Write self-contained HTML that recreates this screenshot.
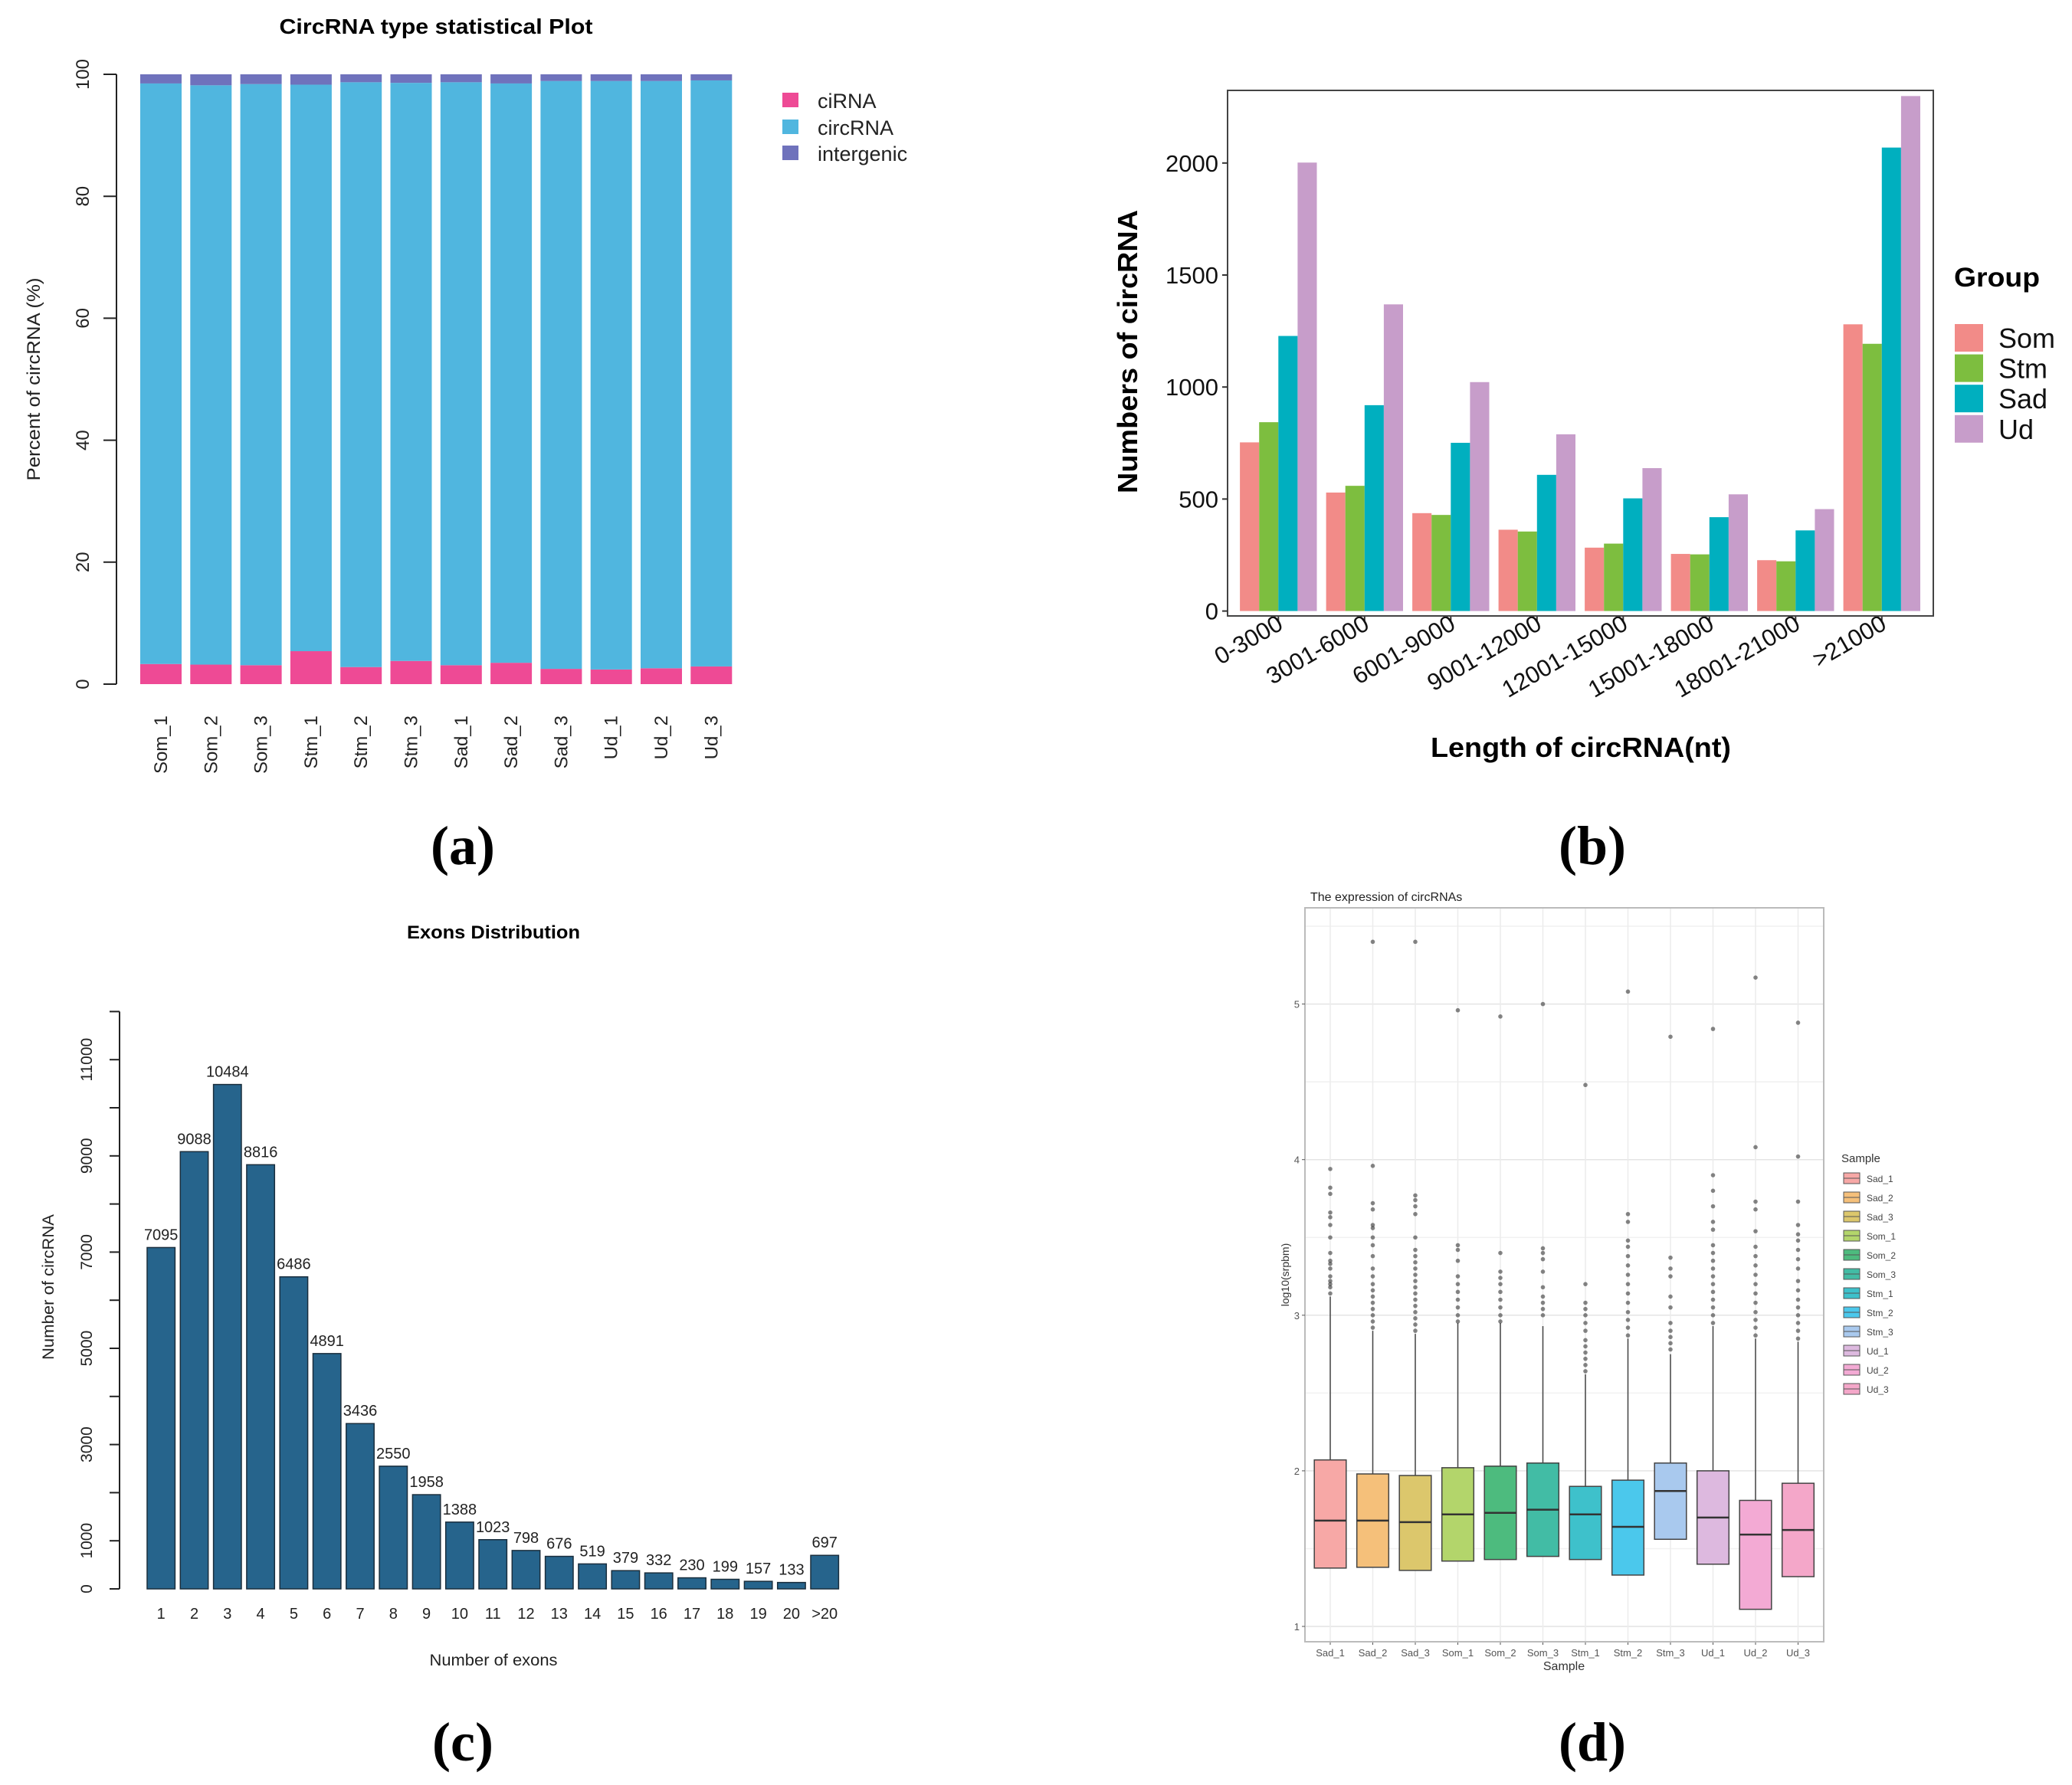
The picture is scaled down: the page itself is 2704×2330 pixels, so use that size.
<!DOCTYPE html>
<html><head><meta charset="utf-8">
<style>
html,body{margin:0;padding:0;background:#fff;}
svg{display:block;font-family:"Liberation Sans",sans-serif;}
.lbl{font-family:"Liberation Serif",serif;font-weight:bold;}
</style></head>
<body>
<svg id="fig" width="2704" height="2330" viewBox="0 0 2704 2330" xmlns="http://www.w3.org/2000/svg">
<g id="pa"></g>
<g id="pb"></g>
<g id="pc"></g>
<g id="pd"></g>
<text class="lbl" x="604" y="1128" font-size="72" text-anchor="middle">(a)</text>
<text class="lbl" x="2078" y="1128" font-size="72" text-anchor="middle">(b)</text>
<text class="lbl" x="604" y="2298" font-size="72" text-anchor="middle">(c)</text>
<text class="lbl" x="2078" y="2298" font-size="72" text-anchor="middle">(d)</text>
</svg>
<script>
// ---------- Panel A data ----------
const aSamples = ["Som_1","Som_2","Som_3","Stm_1","Stm_2","Stm_3","Sad_1","Sad_2","Sad_3","Ud_1","Ud_2","Ud_3"];
const aCiRNA = [3.3,3.2,3.1,5.4,2.8,3.8,3.1,3.5,2.5,2.4,2.6,2.9];
const aIntergenic = [1.5,1.8,1.6,1.7,1.3,1.4,1.3,1.5,1.1,1.1,1.1,1.0];
const aTicks = [0,20,40,60,80,100];
// ---------- Panel B data ----------
const bCats = ["0-3000","3001-6000","6001-9000","9001-12000","12001-15000","15001-18000","18001-21000",">21000"];
const bGroups = ["Som","Stm","Sad","Ud"];
const bSom = [753,529,437,363,283,255,227,1280];
const bStm = [843,559,429,355,301,253,222,1193];
const bSad = [1228,919,751,608,503,419,360,2069];
const bUd = [2002,1369,1022,789,638,521,455,2299];
const bTicks = [0,500,1000,1500,2000];
// ---------- Panel C data ----------
const cCats = ["1","2","3","4","5","6","7","8","9","10","11","12","13","14","15","16","17","18","19","20",">20"];
const cVals = [7095,9088,10484,8816,6486,4891,3436,2550,1958,1388,1023,798,676,519,379,332,230,199,157,133,697];
const cTicks = [0,1000,2000,3000,4000,5000,6000,7000,8000,9000,10000,11000,12000];
const cTickLabels = ["0","1000","","3000","","5000","","7000","","9000","","11000",""];
// ---------- Panel D data ----------
const dSamples = ["Sad_1","Sad_2","Sad_3","Som_1","Som_2","Som_3","Stm_1","Stm_2","Stm_3","Ud_1","Ud_2","Ud_3"];
const dQ1 = [1.375,1.38,1.36,1.42,1.43,1.45,1.43,1.33,1.56,1.40,1.11,1.32];
const dMed = [1.68,1.68,1.67,1.72,1.73,1.75,1.72,1.64,1.87,1.70,1.59,1.62];
const dQ3 = [2.07,1.98,1.97,2.02,2.03,2.05,1.90,1.94,2.05,2.00,1.81,1.92];
const dWhisk = [3.12,2.90,2.88,2.95,2.95,2.93,2.62,2.85,2.75,2.93,2.85,2.83];
const dOutliers = [
 [3.14,3.18,3.2,3.22,3.25,3.3,3.33,3.35,3.4,3.5,3.58,3.63,3.66,3.78,3.82,3.94],
 [2.92,2.96,3.0,3.04,3.08,3.12,3.16,3.2,3.25,3.3,3.38,3.45,3.5,3.56,3.58,3.68,3.72,3.96,5.40],
 [2.9,2.94,2.98,3.02,3.06,3.1,3.14,3.18,3.22,3.26,3.3,3.34,3.38,3.42,3.5,3.65,3.7,3.74,3.77,5.40],
 [2.96,3.0,3.05,3.1,3.15,3.2,3.25,3.35,3.42,3.45,4.96],
 [2.96,3.0,3.05,3.1,3.15,3.2,3.24,3.28,3.4,4.92],
 [3.0,3.04,3.08,3.12,3.18,3.28,3.36,3.4,3.43,5.0],
 [2.64,2.68,2.72,2.76,2.8,2.84,2.9,2.95,3.0,3.04,3.08,3.2,4.48],
 [2.87,2.92,2.97,3.02,3.08,3.14,3.2,3.26,3.32,3.38,3.44,3.48,3.6,3.65,5.08],
 [2.78,2.82,2.86,2.9,2.95,3.05,3.12,3.25,3.3,3.37,4.79],
 [2.95,3.0,3.05,3.1,3.15,3.2,3.25,3.3,3.35,3.4,3.45,3.55,3.6,3.7,3.8,3.9,4.84],
 [2.87,2.92,2.97,3.02,3.08,3.14,3.2,3.26,3.32,3.38,3.44,3.54,3.68,3.73,4.08,5.17],
 [2.85,2.9,2.95,3.0,3.05,3.1,3.16,3.22,3.3,3.36,3.42,3.48,3.52,3.58,3.73,4.02,4.88]
];
const dTicks = [1,2,3,4,5];

const NS="http://www.w3.org/2000/svg";
function mk(parent,tag,attrs,text){const e=document.createElementNS(NS,tag);for(const k in attrs)e.setAttribute(k,attrs[k]);if(text!==undefined)e.textContent=text;parent.appendChild(e);return e;}

// ================= Panel A =================
(function(){
 const g=document.getElementById('pa');
 const y0=893,y100=97,axX=152,x0=183,pitch=65.3,bw=54;
 const ya=v=>y0-(v/100)*(y0-y100);
 const xa=i=>x0+i*pitch;
 let t=mk(g,'text',{x:569,y:44,'font-size':28,'font-weight':'bold','text-anchor':'middle',textLength:409,lengthAdjust:'spacingAndGlyphs'},'CircRNA type statistical Plot');
 
 let ax=mk(g,'line',{x1:axX,y1:ya(0),x2:axX,y2:ya(100),stroke:'#222','stroke-width':2});
 
 aTicks.forEach(v=>{
  mk(g,'line',{x1:axX-17,y1:ya(v),x2:axX,y2:ya(v),stroke:'#222','stroke-width':2});
  const tl=mk(g,'text',{x:116,y:ya(v),'font-size':24,'text-anchor':'middle',transform:`rotate(-90 116 ${ya(v)})`,fill:'#222'},String(v));
  
 });
 const yt=mk(g,'text',{x:52,y:495,'font-size':24,'text-anchor':'middle',transform:'rotate(-90 52 495)',textLength:265,lengthAdjust:'spacingAndGlyphs',fill:'#222'},'Percent of circRNA (%)');
 
 aSamples.forEach((s,i)=>{
  const x=xa(i),ci=aCiRNA[i],ig=aIntergenic[i];
  const r1=mk(g,'rect',{x:x,y:ya(ci),width:bw,height:ya(0)-ya(ci),fill:'#EE4A95'});
  
  const r2=mk(g,'rect',{x:x,y:ya(100-ig),width:bw,height:ya(ci)-ya(100-ig),fill:'#50B6DF'});
  
  const r3=mk(g,'rect',{x:x,y:ya(100),width:bw,height:ya(100-ig)-ya(100),fill:'#6F72BC'});
  
  const cx=x+bw/2;
  const tl=mk(g,'text',{x:cx+8,y:934,'font-size':24,'text-anchor':'end',transform:`rotate(-90 ${cx+8} 934)`,fill:'#222'},s);
  
 });
 const lg=[['ciRNA','#EE4A95',131],['circRNA','#50B6DF',166],['intergenic','#6F72BC',200]];
 lg.forEach(l=>{
  const r=mk(g,'rect',{x:1021,y:l[2]-10,width:21,height:19,fill:l[1]});
  
  const tx=mk(g,'text',{x:1067,y:l[2]+10,'font-size':27,fill:'#222'},l[0]);
  
 });
})();

// ================= Panel B =================
(function(){
 const g=document.getElementById('pb');
 const L=1602,R=2523,T=118,B=804,y0=797.6,per=0.2924;
 const ya=v=>y0-v*per;
 const cx0=1668.3,pitch=112.5,bw=25.1;
 const xc=i=>cx0+i*pitch;
 const cols=['#F28B88','#7DBE3F','#00AFBF','#C79DCA'];
 const series=[bSom,bStm,bSad,bUd];
 bCats.forEach((c,i)=>{
  series.forEach((arr,k)=>{
   const v=arr[i];
   const r=mk(g,'rect',{x:xc(i)-50.2+k*bw,y:ya(v),width:bw,height:ya(0)-ya(v),fill:cols[k]});
   
  });
  mk(g,'line',{x1:xc(i),y1:B,x2:xc(i),y2:B+7,stroke:'#333','stroke-width':2});
  const tx=xc(i)+8,ty=820;
  const tl=mk(g,'text',{x:tx,y:ty,'font-size':31,'text-anchor':'end',transform:`rotate(-30 ${tx} ${ty})`,fill:'#111'},c);
  
 });
 const fr=mk(g,'rect',{x:L,y:T,width:R-L,height:B-T,fill:'none',stroke:'#444','stroke-width':2});
 
 bTicks.forEach(v=>{
  mk(g,'line',{x1:L-7,y1:ya(v),x2:L,y2:ya(v),stroke:'#333','stroke-width':2});
  const tl=mk(g,'text',{x:1590,y:ya(v)+11,'font-size':31,'text-anchor':'end',fill:'#111'},String(v));
  
 });
 const yt=mk(g,'text',{x:1484,y:459,'font-size':36,'font-weight':'bold','text-anchor':'middle',transform:'rotate(-90 1484 459)',textLength:370,lengthAdjust:'spacingAndGlyphs'},'Numbers of circRNA');
 
 const xt=mk(g,'text',{x:2063,y:988,'font-size':36,'font-weight':'bold','text-anchor':'middle',textLength:392,lengthAdjust:'spacingAndGlyphs'},'Length of circRNA(nt)');
 
 const lt=mk(g,'text',{x:2550,y:374,'font-size':35,'font-weight':'bold',textLength:112,lengthAdjust:'spacingAndGlyphs'},'Group');
 
 bGroups.forEach((n,k)=>{
  const y=423+k*39.6;
  const r=mk(g,'rect',{x:2551,y:y,width:37,height:36,fill:cols[k]});
  
  const t=mk(g,'text',{x:2608,y:y+31,'font-size':36,fill:'#111'},n);
  
 });
})();

// ================= Panel C =================
(function(){
 const g=document.getElementById('pc');
 const axX=156,y0=2074,per=0.0628;
 const ya=v=>y0-v*per;
 const x0=192,pitch=43.3,bw=36.4;
 const xa=i=>x0+i*pitch;
 const t=mk(g,'text',{x:644,y:1225,'font-size':24,'font-weight':'bold','text-anchor':'middle',textLength:226,lengthAdjust:'spacingAndGlyphs'},'Exons Distribution');
 
 const ax=mk(g,'line',{x1:axX,y1:ya(0),x2:axX,y2:ya(12000),stroke:'#222','stroke-width':2});
 
 cTicks.forEach((v,i)=>{
  mk(g,'line',{x1:axX-13,y1:ya(v),x2:axX,y2:ya(v),stroke:'#222','stroke-width':2});
  if(cTickLabels[i]){
   const tl=mk(g,'text',{x:120,y:ya(v),'font-size':21,'text-anchor':'middle',transform:`rotate(-90 120 ${ya(v)})`,fill:'#222'},cTickLabels[i]);
   
  }
 });
 const yt=mk(g,'text',{x:70,y:1680,'font-size':21,'text-anchor':'middle',transform:'rotate(-90 70 1680)',textLength:190,lengthAdjust:'spacingAndGlyphs',fill:'#222'},'Number of circRNA');
 
 cCats.forEach((c,i)=>{
  const v=cVals[i],x=xa(i);
  const r=mk(g,'rect',{x:x,y:ya(v),width:bw,height:ya(0)-ya(v),fill:'#26648C',stroke:'#1a2e3d','stroke-width':1.5});
  
  const vl=mk(g,'text',{x:x+bw/2,y:ya(v)-10,'font-size':20,'text-anchor':'middle',fill:'#222'},String(v));
  
  const tl=mk(g,'text',{x:x+bw/2,y:2113,'font-size':20,'text-anchor':'middle',fill:'#222'},c);
  
 });
 const xt=mk(g,'text',{x:644,y:2174,'font-size':21,'text-anchor':'middle',textLength:167,lengthAdjust:'spacingAndGlyphs',fill:'#222'},'Number of exons');
 
})();

// ================= Panel D =================
(function(){
 const g=document.getElementById('pd');
 const L=1703,R=2380,T=1185,B=2143;
 const ya=v=>2123-(v-1)*203.1;
 const cx0=1736,pitch=55.5,bw=41.6;
 const xc=i=>cx0+i*pitch;
 const cols=['#F7A8A6','#F5C07A','#DCC76C','#B3D56B','#4DBB7E','#42BCA5','#3EC1CB','#4BC8EC','#A9C9EE','#DDB9DF','#F3AAD4','#F4A7C9'];
 const t=mk(g,'text',{x:1710,y:1176,'font-size':16,fill:'#222'},'The expression of circRNAs');
 
 [1,1.5,2,2.5,3,3.5,4,4.5,5,5.5].forEach(v=>{
  mk(g,'line',{x1:L,y1:ya(v),x2:R,y2:ya(v),stroke:(v%1===0)?'#e4e4e4':'#f1f1f1','stroke-width':1.5});
 });
 dSamples.forEach((s,i)=>{mk(g,'line',{x1:xc(i),y1:T,x2:xc(i),y2:B,stroke:'#ececec','stroke-width':1.5});});
 dSamples.forEach((s,i)=>{
  const x=xc(i);
  const w=mk(g,'line',{x1:x,y1:ya(dQ3[i]),x2:x,y2:ya(dWhisk[i]),stroke:'#444','stroke-width':1.5});
  
  dOutliers[i].forEach(v=>{
   const c=mk(g,'circle',{cx:x,cy:ya(v),r:2.8,fill:'#333','fill-opacity':0.6});
   
  });
  const b=mk(g,'rect',{x:x-bw/2,y:ya(dQ3[i]),width:bw,height:ya(dQ1[i])-ya(dQ3[i]),fill:cols[i],stroke:'#444','stroke-width':1.5});
  
  const m=mk(g,'line',{x1:x-bw/2,y1:ya(dMed[i]),x2:x+bw/2,y2:ya(dMed[i]),stroke:'#333','stroke-width':2.5});
  
  mk(g,'line',{x1:x,y1:B,x2:x,y2:B+4,stroke:'#555','stroke-width':1});
  const tl=mk(g,'text',{x:x,y:2162,'font-size':13,'text-anchor':'middle',fill:'#555'},s);
  
 });
 const fr=mk(g,'rect',{x:L,y:T,width:R-L,height:B-T,fill:'none',stroke:'#bbb','stroke-width':2});
 
 dTicks.forEach(v=>{
  mk(g,'line',{x1:L-4,y1:ya(v),x2:L,y2:ya(v),stroke:'#555','stroke-width':1});
  const tl=mk(g,'text',{x:L-7,y:ya(v)+5,'font-size':13,'text-anchor':'end',fill:'#555'},String(v));
  
 });
 const yt=mk(g,'text',{x:1682,y:1664,'font-size':14,'text-anchor':'middle',transform:'rotate(-90 1682 1664)',fill:'#333'},'log10(srpbm)');
 
 const xt=mk(g,'text',{x:2041,y:2180,'font-size':16,'text-anchor':'middle',fill:'#333'},'Sample');
 
 const lt=mk(g,'text',{x:2403,y:1517,'font-size':15,fill:'#333'},'Sample');
 
 dSamples.forEach((s,i)=>{
  const y=1538+i*25;
  const r=mk(g,'rect',{x:2406,y:y-7,width:21,height:14,fill:cols[i],stroke:'#555','stroke-width':1});
  
  mk(g,'line',{x1:2406,y1:y,x2:2427,y2:y,stroke:'#555','stroke-width':1});
  const tx=mk(g,'text',{x:2436,y:y+5,'font-size':12,fill:'#444'},s);
  
 });
})();
</script>
</body></html>
